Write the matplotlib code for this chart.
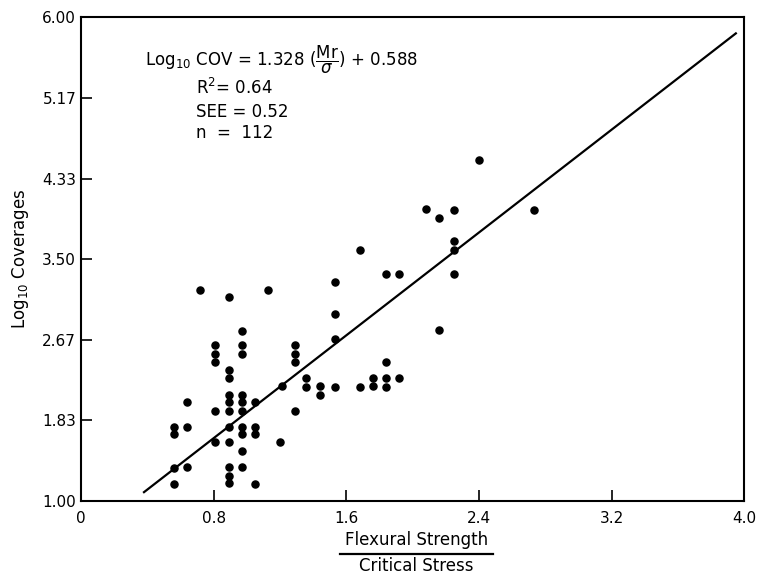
import matplotlib.pyplot as plt
import numpy as np
from matplotlib.lines import Line2D

ratio = [0.56, 0.56, 0.56, 0.56,
         0.64, 0.64, 0.64,
         0.72,
         0.81, 0.81, 0.81, 0.81, 0.81,
         0.89, 0.89, 0.89, 0.89, 0.89, 0.89, 0.89, 0.89, 0.89, 0.89, 0.89,
         0.97, 0.97, 0.97, 0.97, 0.97, 0.97, 0.97, 0.97, 0.97, 0.97,
         1.05, 1.05, 1.05, 1.05,
         1.13, 1.20, 1.21,
         1.29, 1.29, 1.29, 1.29,
         1.36, 1.36, 1.44, 1.44,
         1.53, 1.53, 1.53, 1.53,
         1.68, 1.68, 1.76, 1.76,
         1.84, 1.84, 1.84, 1.84,
         1.92, 1.92,
         2.08, 2.16, 2.16,
         2.25, 2.25, 2.25, 2.25,
         2.40, 2.73]
log_cov = [1.77, 1.69, 1.34, 1.18,
           2.02, 1.77, 1.35,
           3.18,
           2.61, 2.52, 2.44, 1.93, 1.61,
           3.11, 2.35, 2.27, 2.10, 2.02, 1.93, 1.77, 1.61, 1.35, 1.26, 1.19,
           2.76, 2.61, 2.52, 2.10, 2.02, 1.93, 1.77, 1.69, 1.52, 1.35,
           2.02, 1.77, 1.69, 1.18,
           3.18, 1.61, 2.19,
           2.61, 2.52, 2.44, 1.93,
           2.27, 2.18, 2.19, 2.10,
           3.26, 2.93, 2.68, 2.18,
           3.60, 2.18, 2.27, 2.19,
           3.35, 2.44, 2.27, 2.18,
           3.35, 2.27,
           4.02, 3.93, 2.77,
           4.01, 3.69, 3.60, 3.35,
           4.53, 4.01]

# Regression line: log10 COV = 1.328 (Mr/sigma) + 0.588
slope, intercept = 1.328, 0.588
fit_x = np.array([0.38, 3.95])

x_ticks = [0, 0.8, 1.6, 2.4, 3.2, 4.0]
x_labels = ['0', '0.8', '1.6', '2.4', '3.2', '4.0']
y_ticks = [1.0, 1.0 + 5 / 6, 1.0 + 10 / 6, 3.5, 1.0 + 20 / 6, 1.0 + 25 / 6, 6.0]
y_labels = ['1.00', '1.83', '2.67', '3.50', '4.33', '5.17', '6.00']

fig = plt.figure(figsize=(7.57, 5.76), dpi=100)
ax = fig.add_axes([0.107, 0.130, 0.876, 0.840])

ax.scatter(ratio, log_cov, s=26, color='black', zorder=3)
ax.plot(fit_x, slope * fit_x + intercept, color='black', linewidth=1.6)

ax.set_xlim(0, 4.0)
ax.set_ylim(1.0, 6.0)
ax.set_xticks(x_ticks)
ax.set_xticklabels(x_labels)
ax.set_yticks(y_ticks)
ax.set_yticklabels(y_labels)
ax.tick_params(direction='in', length=8, width=1.2, labelsize=11)
ax.tick_params(axis='x', pad=7)
for s in ax.spines.values():
    s.set_linewidth(1.5)

ax.set_ylabel(r'Log$_{10}$ Coverages', fontsize=12, labelpad=8)

# equation and stats
ax.text(0.097, 0.912, r'Log$_{10}$ COV = 1.328 ($\dfrac{\mathrm{Mr}}{\sigma}$) + 0.588',
        transform=ax.transAxes, fontsize=12, va='center')
ax.text(0.173, 0.853, r'R$^2$= 0.64', transform=ax.transAxes, fontsize=12, va='center')
ax.text(0.173, 0.805, 'SEE = 0.52', transform=ax.transAxes, fontsize=12, va='center')
ax.text(0.173, 0.760, 'n  =  112', transform=ax.transAxes, fontsize=12, va='center')

# x label drawn as a fraction
fig.text(0.550, 0.063, 'Flexural Strength', ha='center', va='center', fontsize=12)
fig.text(0.550, 0.017, 'Critical Stress', ha='center', va='center', fontsize=12)
fig.add_artist(Line2D([0.449, 0.651], [0.039, 0.039], color='black', linewidth=1.6,
                      transform=fig.transFigure))

fig.savefig('out.png', dpi=100)
